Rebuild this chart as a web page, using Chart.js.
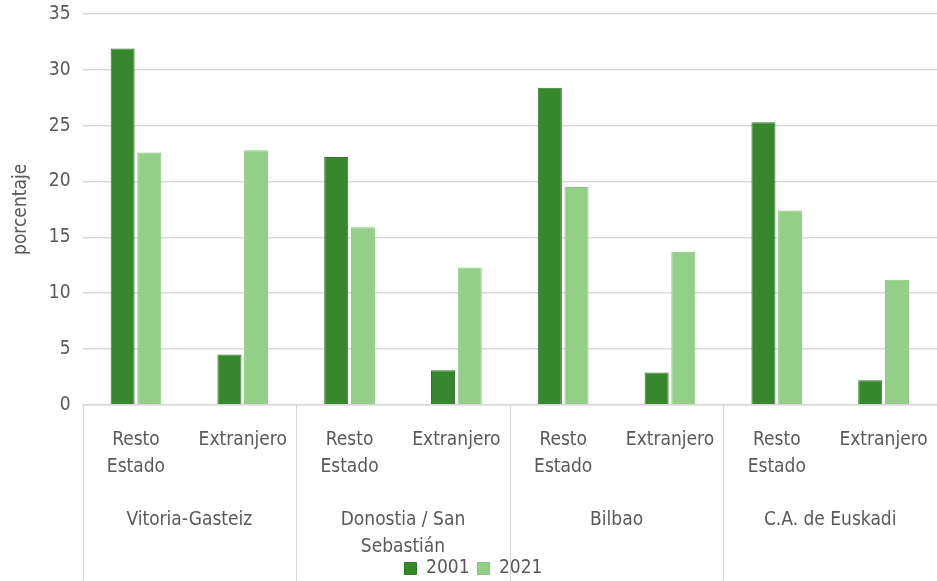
<!DOCTYPE html>
<html>
<head>
<meta charset="utf-8">
<script src="https://cdn.jsdelivr.net/npm/chart.js@4/dist/chart.umd.min.js"></script>
<style>
  html, body { margin: 0; padding: 0; background: #fff; }
  #wrap { width: 937px; height: 581px; position: relative; }
</style>
</head>
<body>
<div id="wrap"><canvas id="origenChart"></canvas></div>
<script>
// Población según lugar de nacimiento, por capital (%)
const categories = [
  ["Resto", "Estado"], "Extranjero",
  ["Resto", "Estado"], "Extranjero",
  ["Resto", "Estado"], "Extranjero",
  ["Resto", "Estado"], "Extranjero"
]
const groups = ["Vitoria-Gasteiz", ["Donostia / San", "Sebastián"], "Bilbao", "C.A. de Euskadi"]
const values2001 = [31.9, 4.5, 22.2, 3.1, 28.4, 2.9, 25.3, 2.2]
const values2021 = [22.6, 22.8, 15.9, 12.3, 19.5, 13.7, 17.4, 11.2]
const yTicks = [0, 5, 10, 15, 20, 25, 30, 35]

const textColor = "#595959"
const gridColor = "#d9d9d9"
const fontFamily = "'Liberation Sans Narrow', 'DejaVu Sans Condensed', 'Liberation Sans', sans-serif"

// Vertical separators between the groups, running from the axis to the bottom
const groupDividers = {
  id: "groupDividers",
  afterLayout(chart) {
    // the group axis box is squeezed, so stop its labels from being clipped
    chart.scales.x2.bottom = chart.height
  },
  afterDraw(chart) {
    const x = chart.scales.x
    const ctx = chart.ctx
    const top = chart.chartArea.bottom
    const bottom = chart.height
    ctx.save()
    ctx.strokeStyle = gridColor
    ctx.lineWidth = 1
    for (let i = 0; i < categories.length; i += 2) {
      const px = Math.round(x.getPixelForValue(i - 0.5)) + 0.5
      ctx.beginPath()
      ctx.moveTo(px, top)
      ctx.lineTo(px, bottom)
      ctx.stroke()
    }
    ctx.restore()
  },
}

const ctx = document.getElementById("origenChart").getContext("2d")
new Chart(ctx, {
  type: "bar",
  data: {
    labels: categories,
    datasets: [
      {
        label: "2001",
        data: values2001,
        backgroundColor: "#37872d",
        borderColor: "#2f7a27",
        borderWidth: 1,
      },
      {
        label: "2021",
        data: values2021,
        backgroundColor: "#92d087",
        borderColor: "#86c67b",
        borderWidth: 1,
      },
    ],
  },
  options: {
    responsive: true,
    maintainAspectRatio: false,
    animation: false,
    categoryPercentage: 0.5,
    barPercentage: 0.9,
    layout: { padding: { top: 0, right: 0, left: 10, bottom: -7 } },
    plugins: {
      tooltip: { enabled: false },
      legend: {
        position: "bottom",
        labels: {
          boxWidth: 12,
          boxHeight: 12,
          padding: 8,
          color: textColor,
          font: { family: fontFamily, size: 19 },
        },
      },
    },
    scales: {
      y: {
        min: 0,
        max: 35,
        afterBuildTicks: (scale) => {
          scale.ticks = yTicks.map((v) => ({ value: v }))
        },
        afterFit: (scale) => {
          scale.paddingTop = 14
        },
        grid: { color: gridColor, lineWidth: 1.5, drawTicks: false },
        border: { display: false },
        ticks: {
          padding: 12,
          color: textColor,
          font: { family: fontFamily, size: 19 },
        },
        title: {
          display: true,
          text: "porcentaje",
          color: textColor,
          padding: { top: 0, bottom: 4 },
          font: { family: fontFamily, size: 19 },
        },
      },
      x: {
        afterFit: (scale) => {
          scale.paddingRight = 0
        },
        grid: { display: false },
        border: { display: true, color: gridColor, width: 1.5 },
        ticks: {
          padding: 13,
          maxRotation: 0,
          autoSkip: false,
          color: textColor,
          font: { family: fontFamily, size: 19, lineHeight: 1.45 },
        },
      },
      x2: {
        type: "category",
        position: "bottom",
        labels: groups,
        offset: true,
        // let the two-line group label run into the legend band
        afterFit: (scale) => {
          scale.paddingRight = 0
          scale.height -= 14
        },
        grid: { display: false },
        border: { display: false },
        ticks: {
          padding: 4,
          maxRotation: 0,
          autoSkip: false,
          color: textColor,
          font: { family: fontFamily, size: 19, lineHeight: 1.45 },
        },
      },
    },
  },
  plugins: [groupDividers],
})
</script>
</body>
</html>
